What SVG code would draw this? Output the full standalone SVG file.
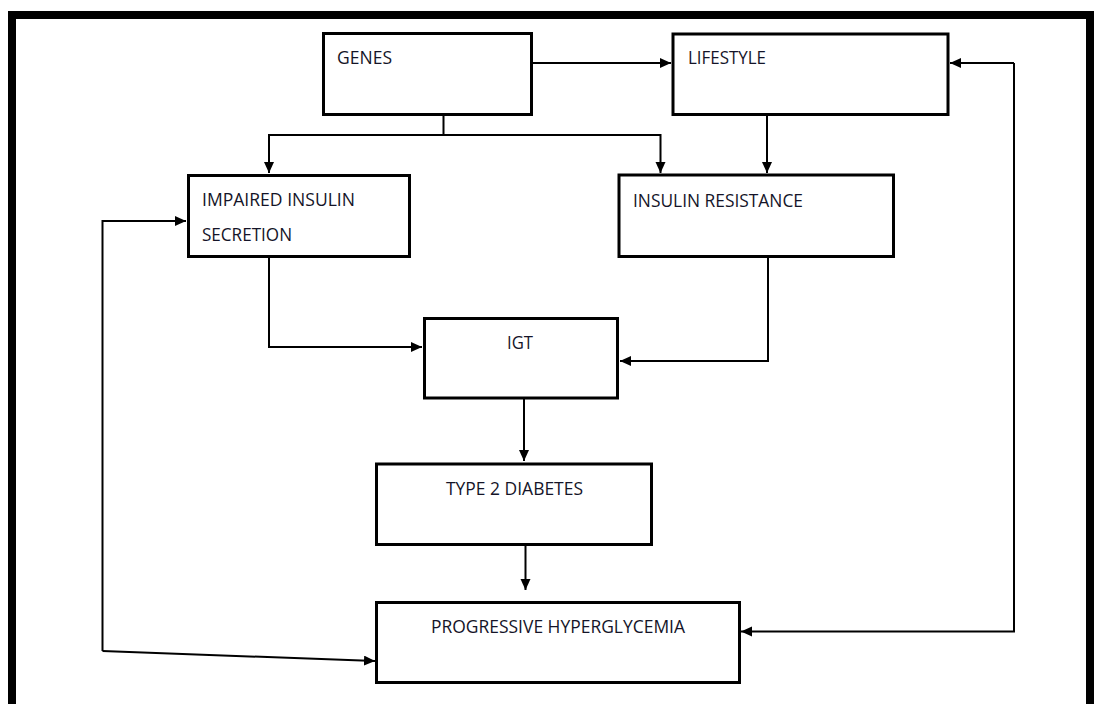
<svg xmlns="http://www.w3.org/2000/svg" width="1094" height="704" viewBox="0 0 1094 704">
<style>
.box{fill:#fff;stroke:#000;stroke-width:3}
.lbl{font-family:"Open Sans",Lato,"Liberation Sans",sans-serif;font-size:19px;fill:#141428}
.con{fill:none;stroke:#000;stroke-width:2;marker-end:url(#ah)}
</style>
<defs>
<marker id="ah" markerUnits="userSpaceOnUse" markerWidth="12" markerHeight="11" refX="11" refY="5" orient="auto">
<path d="M0,0 L11,5 L0,10 z" fill="#000"/>
</marker>
</defs>
<rect width="1094" height="704" fill="#fff"/>
<path d="M12,704 V15 H1090 V704" fill="none" stroke="#000" stroke-width="8"/>
<g id="connectors">
<line class="con" x1="532" y1="63" x2="671" y2="63"/>
<path class="con" d="M443.5,115 V135 H269 V173"/>
<path class="con" d="M443.5,135 H660.5 V173"/>
<path class="con" d="M767,115 V173"/>
<path class="con" d="M269,258 V347 H422"/>
<path class="con" d="M768,258 V361 H620"/>
<path class="con" d="M524,399 V461"/>
<path class="con" d="M525.5,546 V590"/>
<path class="con" d="M1014,63 V631.5 H741"/>
<path class="con" d="M1014,63 H950"/>
<path class="con" d="M102.5,651 V221 H186"/>
<path class="con" d="M102.5,651 L375,661"/>
</g>
<g id="genes">
<rect class="box" x="323.5" y="33.5" width="208" height="81"/>
<text class="lbl" x="337" y="64" textLength="55" lengthAdjust="spacingAndGlyphs">GENES</text>
</g>
<g id="lifestyle">
<rect class="box" x="673" y="34" width="275" height="80.5"/>
<text class="lbl" x="688" y="64" textLength="78" lengthAdjust="spacingAndGlyphs">LIFESTYLE</text>
</g>
<g id="impaired">
<rect class="box" x="188.5" y="175.5" width="221" height="81"/>
<text class="lbl" x="202" y="206" textLength="153" lengthAdjust="spacingAndGlyphs">IMPAIRED INSULIN</text>
<text class="lbl" x="202" y="241" textLength="90" lengthAdjust="spacingAndGlyphs">SECRETION</text>
</g>
<g id="resistance">
<rect class="box" x="619" y="175" width="274.5" height="81.5"/>
<text class="lbl" x="633" y="207" textLength="170" lengthAdjust="spacingAndGlyphs">INSULIN RESISTANCE</text>
</g>
<g id="igt">
<rect class="box" x="424.5" y="318.5" width="193" height="79.5"/>
<text class="lbl" x="507" y="349" textLength="26" lengthAdjust="spacingAndGlyphs">IGT</text>
</g>
<g id="type2">
<rect class="box" x="376.5" y="464" width="275" height="80.5"/>
<text class="lbl" x="446" y="495" textLength="137" lengthAdjust="spacingAndGlyphs">TYPE 2 DIABETES</text>
</g>
<g id="progressive">
<rect class="box" x="376.5" y="602.5" width="363" height="80"/>
<text class="lbl" x="431" y="633" textLength="254" lengthAdjust="spacingAndGlyphs">PROGRESSIVE HYPERGLYCEMIA</text>
</g>
</svg>
